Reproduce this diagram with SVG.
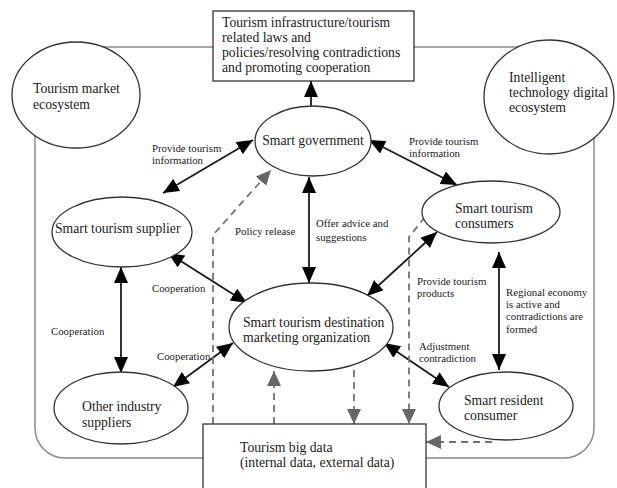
<svg xmlns="http://www.w3.org/2000/svg" width="617" height="488" viewBox="0 0 617 488">
<defs>
<style>
.frame{fill:none;stroke:#8a8a8a;stroke-width:1.5}
.node{fill:#fff;stroke:#333;stroke-width:1.3}
.t{font-family:"Liberation Serif","DejaVu Serif","Times New Roman",serif;font-size:13.7px;fill:#1a1a1a}
.s{font-family:"Liberation Serif","DejaVu Serif","Times New Roman",serif;font-size:10.8px;fill:#1a1a1a}
.a{fill:none;stroke:#1a1a1a;stroke-width:1.8}
.d{fill:none;stroke:#737373;stroke-width:1.8;stroke-dasharray:7,5}
</style>
<marker id="ah" viewBox="0 0 16 14" refX="16" refY="7" markerWidth="16" markerHeight="14" markerUnits="userSpaceOnUse" orient="auto-start-reverse">
<path d="M0,0 L16,7 L0,14 z" fill="#000"/>
</marker>
<marker id="gh" viewBox="0 0 15 14" refX="15" refY="7" markerWidth="15" markerHeight="14" markerUnits="userSpaceOnUse" orient="auto">
<path d="M0,0 L15,7 L0,14 z" fill="#666"/>
</marker>
</defs>
<rect class="frame" x="35" y="47" width="559" height="411" rx="30" ry="30"/>

<g id="connectors">
<line class="a" x1="311" y1="106" x2="311" y2="81" marker-end="url(#ah)"/>
<line class="a" x1="163" y1="193" x2="253" y2="140" marker-start="url(#ah)" marker-end="url(#ah)"/>
<line class="a" x1="369" y1="140" x2="457" y2="185" marker-start="url(#ah)" marker-end="url(#ah)"/>
<line class="a" x1="309" y1="177" x2="309" y2="283" marker-start="url(#ah)" marker-end="url(#ah)"/>
<line class="a" x1="168" y1="253" x2="247" y2="303" marker-start="url(#ah)" marker-end="url(#ah)"/>
<line class="a" x1="121" y1="267" x2="121" y2="373" marker-start="url(#ah)" marker-end="url(#ah)"/>
<line class="a" x1="173" y1="387" x2="233" y2="343" marker-start="url(#ah)" marker-end="url(#ah)"/>
<line class="a" x1="437" y1="232" x2="367" y2="296" marker-start="url(#ah)" marker-end="url(#ah)"/>
<line class="a" x1="384" y1="343" x2="449" y2="387" marker-start="url(#ah)" marker-end="url(#ah)"/>
<line class="a" x1="499" y1="252" x2="499" y2="370" marker-start="url(#ah)" marker-end="url(#ah)"/>
<polyline class="d" points="213,424 213,235 271,170" marker-end="url(#gh)"/>
<line class="d" x1="274" y1="424" x2="274" y2="371" marker-end="url(#gh)"/>
<line class="d" x1="354" y1="370" x2="354" y2="424" marker-end="url(#gh)"/>
<polyline class="d" points="425,217 409,237 409,424" marker-end="url(#gh)"/>
<line class="d" x1="492" y1="442" x2="426" y2="442" marker-end="url(#gh)"/>
<text class="s" x="152" y="152">Provide tourism</text>
<text class="s" x="152" y="164">information</text>
<text class="s" x="409" y="145">Provide tourism</text>
<text class="s" x="409" y="157">information</text>
<text class="s" x="235" y="235">Policy release</text>
<text class="s" x="316" y="227">Offer advice and</text>
<text class="s" x="316" y="241">suggestions</text>
<text class="s" x="152" y="292">Cooperation</text>
<text class="s" x="51" y="335">Cooperation</text>
<text class="s" x="157" y="360">Cooperation</text>
<text class="s" x="417" y="285">Provide tourism</text>
<text class="s" x="417" y="297">products</text>
<text class="s" x="506" y="296">Regional economy</text>
<text class="s" x="506" y="308">is active and</text>
<text class="s" x="506" y="320">contradictions are</text>
<text class="s" x="506" y="333">formed</text>
<text class="s" x="419" y="350">Adjustment</text>
<text class="s" x="419" y="362">contradiction</text>
</g>

<g id="market">
<ellipse class="node" cx="76" cy="95" rx="64" ry="53"/>
<text class="t" x="33" y="93">Tourism market</text>
<text class="t" x="33" y="109">ecosystem</text>
</g>
<g id="policy">
<rect class="node" x="213" y="11" width="201" height="70"/>
<text class="t" x="222" y="27">Tourism infrastructure/tourism</text>
<text class="t" x="222" y="42">related laws and</text>
<text class="t" x="222" y="57">policies/resolving contradictions</text>
<text class="t" x="222" y="72">and promoting cooperation</text>
</g>
<g id="digital">
<ellipse class="node" cx="549" cy="97" rx="65" ry="57"/>
<text class="t" x="509" y="82">Intelligent</text>
<text class="t" x="509" y="97">technology digital</text>
<text class="t" x="509" y="112">ecosystem</text>
</g>
<g id="government">
<ellipse class="node" cx="313" cy="141" rx="58" ry="35"/>
<text class="t" x="313" y="145" text-anchor="middle">Smart government</text>
</g>
<g id="supplier">
<ellipse class="node" cx="122" cy="232" rx="70" ry="35"/>
<text class="t" x="55" y="233">Smart tourism supplier</text>
</g>
<g id="consumers">
<ellipse class="node" cx="491" cy="212" rx="69" ry="31"/>
<text class="t" x="455" y="213">Smart tourism</text>
<text class="t" x="455" y="228">consumers</text>
</g>
<g id="dmo">
<ellipse class="node" cx="311" cy="327" rx="82" ry="44"/>
<text class="t" x="243" y="327">Smart tourism destination</text>
<text class="t" x="243" y="342">marketing organization</text>
</g>
<g id="other">
<ellipse class="node" cx="121" cy="408" rx="67" ry="36"/>
<text class="t" x="82" y="411">Other industry</text>
<text class="t" x="82" y="427">suppliers</text>
</g>
<g id="resident">
<ellipse class="node" cx="506" cy="406" rx="67" ry="34"/>
<text class="t" x="464" y="405">Smart resident</text>
<text class="t" x="464" y="420">consumer</text>
</g>
<g id="bigdata">
<rect class="node" x="203" y="424" width="223" height="70"/>
<text class="t" x="240" y="452">Tourism big data</text>
<text class="t" x="240" y="467">(internal data, external data)</text>
</g>
</svg>
